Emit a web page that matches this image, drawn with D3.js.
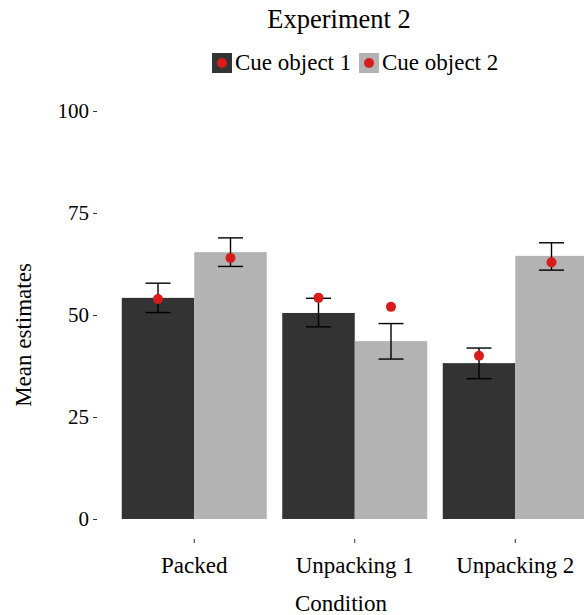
<!DOCTYPE html>
<html lang="en">
<head>
  <meta charset="UTF-8">
  <title>Experiment 2</title>
  <script src="https://cdn.jsdelivr.net/npm/d3@7/dist/d3.min.js"></script>
  <style>
    body { margin: 0; background: #fff; }
    svg text { font-family: "Liberation Serif", "Times New Roman", serif; fill: #000; }
  </style>
</head>
<body>
<div id="viz"></div>
<script>
  // data
  var conditions = ["Packed", "Unpacking 1", "Unpacking 2"];
  var cues = ["Cue object 1", "Cue object 2"];
  var barMeans = [[54.2, 65.4], [50.5, 43.6], [38.2, 64.5]];
  var errLow = [[50.6, 61.9], [47.1, 39.2], [34.4, 61.0]];
  var errHigh = [[57.8, 68.9], [54.1, 47.9], [41.9, 67.7]];
  var pointValues = [[53.9, 64.0], [54.2, 52.0], [40.0, 62.9]];
  var yTicks = [0, 25, 50, 75, 100];
  var cueColors = ["#333333", "#b3b3b3"];

  var width = 584, height = 615;

  var svg = d3.select("#viz").append("svg")
    .attr("width", width)
    .attr("height", height);

  var x0 = d3.scaleBand().domain(conditions).range([114, 595.5]).padding(0);
  var x1 = d3.scaleBand().domain(cues).range([0, x0.bandwidth()]).paddingOuter(0.107).paddingInner(0);
  var y = d3.scaleLinear().domain([0, 100]).range([519, 111]);

  // flatten for drawing
  var rows = [];
  conditions.forEach(function(c, i) {
    cues.forEach(function(k, j) {
      rows.push({ cond: c, cue: k, j: j, mean: barMeans[i][j], lo: errLow[i][j], hi: errHigh[i][j], pt: pointValues[i][j] });
    });
  });

  // bars
  svg.append("g").selectAll("rect")
    .data(rows)
    .enter().append("rect")
    .attr("x", function(d) { return x0(d.cond) + x1(d.cue); })
    .attr("y", function(d) { return y(d.mean); })
    .attr("width", x1.bandwidth())
    .attr("height", function(d) { return y(0) - y(d.mean); })
    .attr("fill", function(d) { return cueColors[d.j]; });

  // error bars
  var cap = 12.5;
  var eb = svg.append("g").attr("stroke", "#000").attr("stroke-width", 1.4).attr("fill", "none");
  rows.forEach(function(d) {
    var cx = x0(d.cond) + x1(d.cue) + x1.bandwidth() / 2;
    eb.append("line").attr("x1", cx).attr("x2", cx).attr("y1", y(d.lo)).attr("y2", y(d.hi));
    eb.append("line").attr("x1", cx - cap).attr("x2", cx + cap).attr("y1", y(d.lo)).attr("y2", y(d.lo));
    eb.append("line").attr("x1", cx - cap).attr("x2", cx + cap).attr("y1", y(d.hi)).attr("y2", y(d.hi));
  });

  // red points
  svg.append("g").selectAll("circle")
    .data(rows)
    .enter().append("circle")
    .attr("cx", function(d) { return x0(d.cond) + x1(d.cue) + x1.bandwidth() / 2; })
    .attr("cy", function(d) { return y(d.pt); })
    .attr("r", 5)
    .attr("fill", "#d81b1b");

  // y axis
  var yAxis = svg.append("g")
    .attr("transform", "translate(97,0)")
    .call(d3.axisLeft(y).tickValues(yTicks).tickSize(4).tickPadding(4));
  yAxis.select(".domain").remove();
  yAxis.selectAll(".tick line").attr("stroke", "#333");
  yAxis.selectAll(".tick text").style("font-size", "21px").attr("dy", "0.33em");

  // x axis
  var xAxis = svg.append("g")
    .attr("transform", "translate(0,539)")
    .call(d3.axisBottom(x0).tickSize(4).tickPadding(14));
  xAxis.select(".domain").remove();
  xAxis.selectAll(".tick line").attr("stroke", "#333");
  xAxis.selectAll(".tick text").style("font-size", "23px");

  // axis titles
  svg.append("text")
    .attr("x", 341)
    .attr("y", 611)
    .attr("text-anchor", "middle")
    .style("font-size", "23px")
    .text("Condition");

  svg.append("text")
    .attr("transform", "translate(31,335) rotate(-90)")
    .attr("text-anchor", "middle")
    .style("font-size", "23px")
    .text("Mean estimates");

  // title
  svg.append("text")
    .attr("x", 339)
    .attr("y", 28)
    .attr("text-anchor", "middle")
    .style("font-size", "26.5px")
    .text("Experiment 2");

  // legend
  var legendX = [212, 359];
  var legend = svg.append("g").selectAll("g")
    .data(cues)
    .enter().append("g")
    .attr("transform", function(d, i) { return "translate(" + legendX[i] + ",53)"; });
  legend.append("rect")
    .attr("width", 20).attr("height", 20)
    .attr("fill", function(d, i) { return cueColors[i]; });
  legend.append("circle")
    .attr("cx", 10).attr("cy", 10).attr("r", 5)
    .attr("fill", "#d81b1b");
  legend.append("text")
    .attr("x", 23).attr("y", 17)
    .style("font-size", "23px")
    .text(function(d) { return d; });
</script>
</body>
</html>
